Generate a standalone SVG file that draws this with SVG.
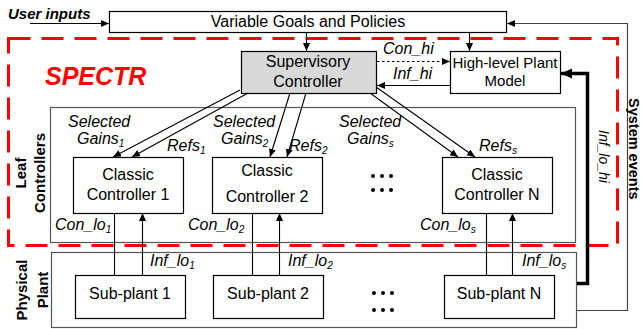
<svg xmlns="http://www.w3.org/2000/svg" width="642" height="329" viewBox="0 0 642 329">
  <style>
    text { font-family: "Liberation Sans", Arial, sans-serif; fill: #000; }
    .box { fill: #fff; stroke: #000; stroke-width: 1.2; }
    .grp { fill: #fff; stroke: #555; stroke-width: 1.2; }
    .lbl { font-size: 16px; text-anchor: middle; }
    .it { font-size: 16px; font-style: italic; }
    .sub { font-size: 10px; }
    .side { font-size: 15px; font-weight: bold; text-anchor: middle; }
    .wire { fill: none; stroke: #000; stroke-width: 1.1; }
  </style>
  <defs>
    <marker id="ah" markerUnits="userSpaceOnUse" markerWidth="9" markerHeight="8" refX="8" refY="3.5" orient="auto">
      <path d="M0,0 L8,3.5 L0,7 z" fill="#000"/>
    </marker>
    <marker id="ahBig" markerUnits="userSpaceOnUse" markerWidth="13" markerHeight="11" refX="11" refY="5" orient="auto">
      <path d="M0,0 L11,5 L0,10 z" fill="#000"/>
    </marker>
  </defs>

  <!-- group frames -->
  <g id="leaf-controllers">
    <rect class="grp" x="50.5" y="107.5" width="525" height="135"/>
    <text class="side" transform="translate(26,173) rotate(-90)">Leaf</text>
    <text class="side" transform="translate(45,173) rotate(-90)">Controllers</text>
  </g>
  <g id="physical-plant">
    <rect class="grp" x="51.5" y="252.5" width="525" height="75"/>
    <text class="side" transform="translate(27,290) rotate(-90)">Physical</text>
    <text class="side" transform="translate(48,290) rotate(-90)">Plant</text>
  </g>

  <!-- SPECTR boundary -->
  <g id="spectr">
    <rect x="8.5" y="38.5" width="609" height="207" fill="none" stroke="#f00" stroke-width="3" stroke-dasharray="22,11"/>
    <text x="45" y="85" font-size="25" font-weight="bold" font-style="italic" style="fill:#f00">SPECTR</text>
  </g>

  <!-- nodes -->
  <g id="goals">
    <rect class="box" x="109.5" y="11.5" width="397" height="21"/>
    <text class="lbl" x="308" y="27">Variable Goals and Policies</text>
  </g>
  <g id="user-inputs">
    <text x="8" y="19" font-size="15" font-weight="bold" font-style="italic">User inputs</text>
  </g>
  <g id="supervisory">
    <rect x="241.5" y="51.5" width="135" height="42" fill="#d9d9d9" stroke="#000" stroke-width="1.2"/>
    <text class="lbl" x="308" y="67">Supervisory</text>
    <text class="lbl" x="308" y="87">Controller</text>
  </g>
  <g id="plant-model">
    <rect class="box" x="450.5" y="51.5" width="110" height="42"/>
    <text class="lbl" x="505" y="68" style="font-size:15px">High-level Plant</text>
    <text class="lbl" x="505" y="86" style="font-size:15px">Model</text>
  </g>
  <g id="controller-1">
    <rect class="box" x="73.5" y="157.5" width="110" height="56"/>
    <text class="lbl" x="128" y="180">Classic</text>
    <text class="lbl" x="128" y="200">Controller 1</text>
  </g>
  <g id="controller-2">
    <rect class="box" x="212.5" y="157.5" width="110" height="56"/>
    <text class="lbl" x="267" y="176">Classic</text>
    <text class="lbl" x="267" y="202">Controller 2</text>
  </g>
  <g id="controller-n">
    <rect class="box" x="442.5" y="157.5" width="110" height="56"/>
    <text class="lbl" x="497" y="180">Classic</text>
    <text class="lbl" x="497" y="200">Controller N</text>
  </g>
  <g id="subplant-1">
    <rect class="box" x="75.5" y="275.5" width="110" height="43"/>
    <text class="lbl" x="130" y="299">Sub-plant 1</text>
  </g>
  <g id="subplant-2">
    <rect class="box" x="213.5" y="275.5" width="110" height="43"/>
    <text class="lbl" x="268" y="299">Sub-plant 2</text>
  </g>
  <g id="subplant-n">
    <rect class="box" x="444.5" y="275.5" width="110" height="43"/>
    <text class="lbl" x="499" y="299">Sub-plant N</text>
  </g>

  <!-- ellipsis markers -->
  <g id="ellipsis" fill="#000">
    <circle cx="373" cy="176" r="2"/><circle cx="382" cy="176" r="2"/><circle cx="391" cy="176" r="2"/>
    <circle cx="373" cy="190" r="2"/><circle cx="382" cy="190" r="2"/><circle cx="391" cy="190" r="2"/>
    <circle cx="374" cy="293" r="2"/><circle cx="383" cy="293" r="2"/><circle cx="392" cy="293" r="2"/>
    <circle cx="374" cy="310" r="2"/><circle cx="383" cy="310" r="2"/><circle cx="392" cy="310" r="2"/>
  </g>

  <!-- connectors -->
  <g id="connectors">
    <path class="wire" d="M30,23.5 H109" marker-end="url(#ah)"/>
    <path class="wire" d="M306.5,32 V51" marker-end="url(#ah)"/>
    <path class="wire" d="M469.5,32 V51" marker-end="url(#ah)"/>
    <path class="wire" d="M377,61.5 H450" stroke-width="1.4" stroke-dasharray="2.5,2.5" marker-end="url(#ah)"/>
    <path class="wire" d="M450,85.5 H377" marker-end="url(#ah)"/>

    <path class="wire" d="M240,90 L113,157" marker-end="url(#ah)"/>
    <path class="wire" d="M248,93 L132,157" marker-end="url(#ah)"/>
    <path class="wire" d="M290,93 L270,157" marker-end="url(#ah)"/>
    <path class="wire" d="M306,93 L287,157" marker-end="url(#ah)"/>
    <path class="wire" d="M370,93 L458,157" marker-end="url(#ah)"/>
    <path class="wire" d="M376,87 L475,157" marker-end="url(#ah)"/>

    <path class="wire" d="M114.5,213 V275"/>
    <path class="wire" d="M142.5,275 V213" marker-end="url(#ah)"/>
    <path class="wire" d="M252.5,213 V275"/>
    <path class="wire" d="M279.5,275 V213" marker-end="url(#ah)"/>
    <path class="wire" d="M486.5,213 V275"/>
    <path class="wire" d="M512.5,275 V213" marker-end="url(#ah)"/>

    <path d="M577,283.5 H587.5 V73.5 H561" fill="none" stroke="#000" stroke-width="3.5" marker-end="url(#ahBig)"/>
    <path d="M577,310.5 H627.5 V23.5 H507" fill="none" stroke="#444" stroke-width="1.2" marker-end="url(#ah)"/>
  </g>

  <!-- connector labels -->
  <g id="labels">
    <text class="it" x="383" y="54">Con_hi</text>
    <text class="it" x="393" y="79">Inf_hi</text>

    <text class="it" x="68" y="127">Selected</text>
    <text class="it" x="77" y="144">Gains<tspan class="sub" dy="3">1</tspan></text>
    <text class="it" x="167" y="151">Refs<tspan class="sub" dy="3">1</tspan></text>
    <text class="it" x="213" y="127">Selected</text>
    <text class="it" x="221" y="144">Gains<tspan class="sub" dy="3">2</tspan></text>
    <text class="it" x="289" y="151">Refs<tspan class="sub" dy="3">2</tspan></text>
    <text class="it" x="339" y="127">Selected</text>
    <text class="it" x="347" y="144">Gains<tspan class="sub" dy="3">s</tspan></text>
    <text class="it" x="479" y="151">Refs<tspan class="sub" dy="3">s</tspan></text>

    <text class="it" x="55" y="230">Con_lo<tspan class="sub" dy="3">1</tspan></text>
    <text class="it" x="188" y="230">Con_lo<tspan class="sub" dy="3">2</tspan></text>
    <text class="it" x="420" y="230">Con_lo<tspan class="sub" dy="3">s</tspan></text>
    <text class="it" x="150" y="266">Inf_lo<tspan class="sub" dy="3">1</tspan></text>
    <text class="it" x="288" y="266">Inf_lo<tspan class="sub" dy="3">2</tspan></text>
    <text class="it" x="522" y="266">Inf_lo<tspan class="sub" dy="3">s</tspan></text>

    <text class="it" transform="translate(599,130) rotate(90)" style="font-size:14px">Inf_lo_hi</text>
    <text transform="translate(629,98) rotate(90)" font-size="14.5" font-weight="bold">System events</text>
  </g>
</svg>
